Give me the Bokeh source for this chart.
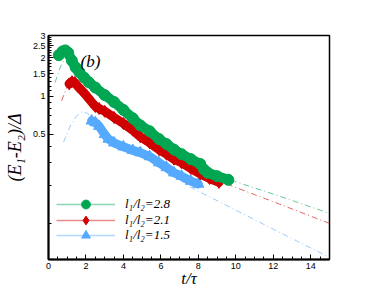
from bokeh.plotting import figure
from bokeh.models import FixedTicker, Legend, LegendItem, Label
from bokeh.embed import file_html
from bokeh.resources import INLINE

# ---- data ----
green_t = [0.55, 0.75, 0.9, 1.05, 1.25, 1.45, 1.65, 1.9, 2.15, 2.5, 3.0, 3.5, 4.0, 4.5, 4.9, 5.4, 5.9, 6.3, 6.7, 7.1, 7.6, 8.1, 8.3, 8.5, 9.0, 9.6]
green_y = [2.10, 2.25, 2.29, 2.2, 1.9, 1.68, 1.54, 1.40, 1.29, 1.17, 1.02, 0.90, 0.78, 0.67, 0.59, 0.53, 0.46, 0.42, 0.38, 0.35, 0.32, 0.293, 0.265, 0.25, 0.235, 0.22]

red_t = [1.1, 1.25, 1.4, 1.6, 1.8, 2.0, 2.3, 2.5, 2.7, 3.0, 3.5, 4.0, 4.5, 4.9, 5.4, 5.9, 6.3, 6.7, 7.1, 7.6, 8.1, 8.6, 9.1]
red_y = [1.25, 1.30, 1.28, 1.18, 1.10, 1.02, 0.90, 0.83, 0.80, 0.76, 0.68, 0.61, 0.54, 0.48, 0.43, 0.38, 0.35, 0.32, 0.30, 0.27, 0.245, 0.225, 0.21]

blue_t = [2.3, 2.5, 2.7, 3.0, 3.2, 3.5, 4.0, 4.5, 4.9, 5.4, 5.9, 6.3, 6.7, 7.1, 7.6, 8.0]
blue_y = [0.64, 0.62, 0.58, 0.50, 0.46, 0.43, 0.40, 0.375, 0.36, 0.335, 0.30, 0.275, 0.25, 0.235, 0.215, 0.204]

gfit_t = [0.35, 0.65, 0.9, 1.5, 2.5, 4.0, 6.0, 8.0, 9.8, 12.0, 15.0]
gfit_y = [1.28, 1.72, 2.0, 1.6, 1.15, 0.78, 0.45, 0.29, 0.217, 0.17, 0.12]

rfit_t = [0.7, 1.0, 1.3, 2.0, 3.0, 4.0, 6.0, 8.0, 9.5, 12.0, 15.0]
rfit_y = [0.92, 1.2, 1.28, 1.02, 0.76, 0.61, 0.38, 0.25, 0.204, 0.148, 0.10]

bfit_t = [0.8, 1.2, 1.5, 1.8, 2.1, 2.4, 3.0, 4.0, 6.0, 7.6, 10.0, 12.0, 15.0]
bfit_y = [0.435, 0.6, 0.7, 0.757, 0.73, 0.66, 0.52, 0.40, 0.28, 0.192, 0.127, 0.090, 0.054]

labels = ["l\u2081/l\u2082=2.8", "l\u2081/l\u2082=2.1", "l\u2081/l\u2082=1.5"]

x_major = [0, 2, 4, 6, 8, 10, 12, 14]
x_minor = [0.5, 1, 1.5, 2.5, 3, 3.5, 4.5, 5, 5.5, 6.5, 7, 7.5, 8.5, 9, 9.5, 10.5, 11, 11.5, 12.5, 13, 13.5, 14.5, 15]
y_major = [0.5, 1, 1.5, 2, 2.5, 3]
y_minor = [0.1, 0.2, 0.3, 0.4, 0.6, 0.7, 0.8, 0.9, 1.1, 1.2, 1.3, 1.4, 1.6, 1.7, 1.8, 1.9,
           2.1, 2.2, 2.3, 2.4, 2.6, 2.7, 2.8, 2.9]
y_major_labels = ["0.5", "1", "1.5", "2", "2.5", "3"]

GREEN = "#00a651"
RED = "#d00000"
BLUE = "#55aaff"

p = figure(width=372, height=290, x_range=(0, 15), y_range=(0.052, 3.0),
           y_axis_type="log", output_backend="svg", toolbar_location=None,
           min_border_left=48, min_border_top=35, min_border_right=43, min_border_bottom=31)
p.grid.visible = False
p.outline_line_color = "black"
p.outline_line_width = 1.5
p.background_fill_color = "white"
p.border_fill_color = "white"

# fit lines (dash-dot)
for t, y, c in [(gfit_t, gfit_y, GREEN), (rfit_t, rfit_y, RED), (bfit_t, bfit_y, BLUE)]:
    p.line(t, y, line_color=c, line_alpha=0.6, line_width=1, line_dash="6 3 1 3")

# data bands (dense markers in the original)
p.line(blue_t, blue_y, line_color=BLUE, line_width=9, line_join="round", line_cap="round")
p.scatter(blue_t, blue_y, marker="triangle", size=11, color=BLUE)
p.line(red_t, red_y, line_color=RED, line_width=9, line_join="round", line_cap="round")
p.scatter(red_t, red_y, marker="diamond", size=12, color=RED)
p.line(green_t, green_y, line_color=GREEN, line_width=10, line_join="round", line_cap="round")
p.scatter(green_t, green_y, marker="circle", size=11, color=GREEN)

# legend: one single-row legend per series so rows can sit closer than the glyph height
row_offsets = [44, 28, 13]
for lab, c, m, t, y, off in zip(labels, [GREEN, RED, BLUE], ["circle", "diamond", "triangle"],
                                [green_t, red_t, blue_t], [green_y, red_y, blue_y], row_offsets):
    lr = p.line(t, y, line_color=c, line_alpha=0.45, line_width=1.5, visible=False)
    sr = p.scatter(t, y, marker=m, size=11, color=c, visible=False)
    leg = Legend(items=[LegendItem(label=lab, renderers=[lr, sr])], location=(8, off),
                 glyph_width=59, glyph_height=22, label_height=22, spacing=0,
                 padding=0, margin=0, label_standoff=10,
                 border_line_alpha=0, background_fill_alpha=0, inactive_fill_alpha=0,
                 click_policy="none",
                 label_text_font="Liberation Serif", label_text_font_style="italic",
                 label_text_font_size="13px", label_text_color="black")
    p.add_layout(leg, "center")

p.add_layout(Label(x=1.71, y=1.89, text="(b)", text_font="Liberation Serif",
                   text_font_style="italic", text_font_size="17px", text_baseline="middle",
                   text_color="black"))

# axes
xa = p.xaxis[0]
xa.ticker = FixedTicker(ticks=x_major, minor_ticks=x_minor)
ya = p.yaxis[0]
ya.ticker = FixedTicker(ticks=y_major, minor_ticks=y_minor)
ya.major_label_overrides = {v: s for v, s in zip(y_major, y_major_labels)}
for ax in (xa, ya):
    ax.axis_line_width = 2
    ax.axis_line_color = "black"
    ax.major_tick_in = 5
    ax.major_tick_out = 0
    ax.minor_tick_in = 3
    ax.minor_tick_out = 0
    ax.major_tick_line_width = 1
    ax.minor_tick_line_width = 1
    ax.major_tick_line_color = "black"
    ax.minor_tick_line_color = "black"
    ax.major_label_text_font = "Liberation Sans"
    ax.major_label_text_font_size = "9px"
    ax.major_label_text_color = "black"
    ax.major_label_standoff = 3
    ax.axis_label_text_font = "Liberation Serif"
    ax.axis_label_text_font_style = "italic"
    ax.axis_label_text_color = "black"

xa.axis_label = "t/\u03c4"
xa.axis_label_text_font_size = "17px"
xa.axis_label_standoff = -3
ya.axis_label = "(E\u2081-E\u2082)/\u0394"
ya.axis_label_text_font_size = "18px"
ya.axis_label_standoff = 5

open("out.html", "w").write(file_html(p, INLINE))
